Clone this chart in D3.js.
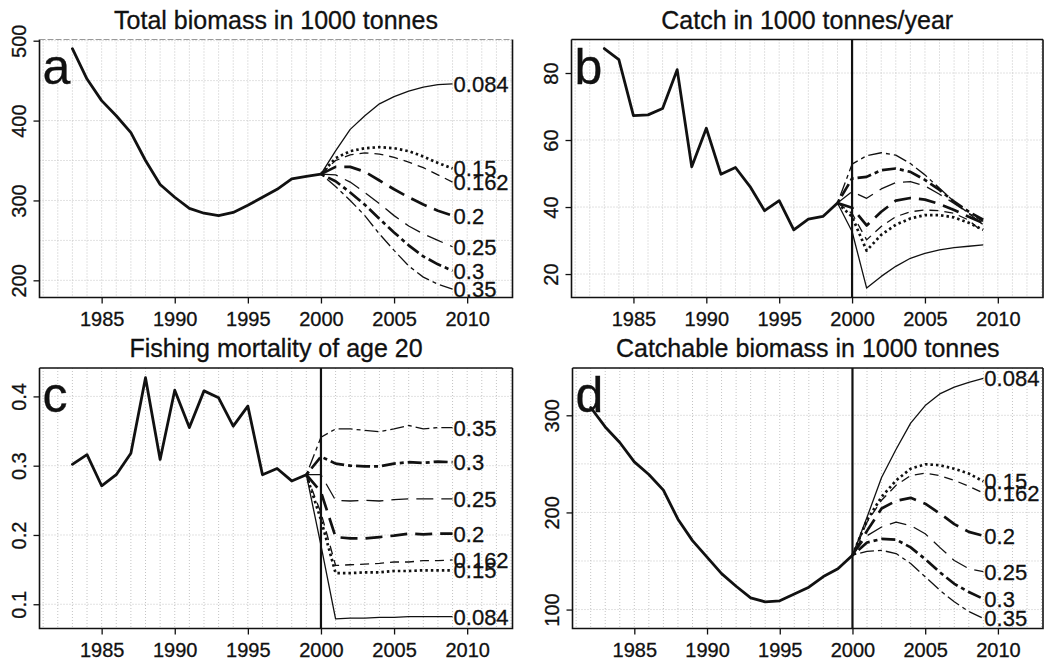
<!DOCTYPE html>
<html>
<head>
<meta charset="utf-8">
<script src="https://cdn.jsdelivr.net/npm/d3@7"></script>
<style>
  body { margin: 0; background: #fff; }
  svg text { font-family: "Liberation Sans", Arial, Helvetica, sans-serif; fill: #111; stroke: #111; stroke-width: 0.3px; }
</style>
</head>
<body>
<div id="chart"></div>
<script>
"use strict"

// scenario F levels, in the order they are drawn
let fLevels = ["0.084", "0.15", "0.162", "0.2", "0.25", "0.3", "0.35"];

let xTicks = [1985, 1990, 1995, 2000, 2005, 2010];

// a: total biomass
let biomassYears = [1983, 1984, 1985, 1986, 1987, 1988, 1989, 1990, 1991, 1992, 1993, 1994, 1995, 1996, 1997, 1998, 1999, 2000];
let biomassHist = [490, 452, 425, 406, 385, 350, 320, 304, 290, 284, 281, 285, 294, 304, 314, 327, 330, 333];
let biomassProjYears = [2000, 2001, 2002, 2003, 2004, 2005, 2006, 2007, 2008, 2009];
let biomassProj = [
  [333, 362, 389, 406, 421, 430, 437, 442, 445, 446],
  [333, 353, 361.7, 365.4, 366.7, 365.4, 361.7, 355, 347, 340],
  [333, 350, 357, 359.5, 358, 354, 348, 341, 332, 323],
  [333, 342, 342, 336, 325, 314, 304, 295, 287, 281],
  [333, 332, 323, 310, 296, 281, 268, 258, 250, 242],
  [333, 324, 310, 294.6, 277, 260, 243.8, 230, 220, 212],
  [333, 317.5, 300, 281, 258, 237.5, 218, 204, 195, 189]
];
let biomassTicks = [200, 300, 400, 500];
let biomassGrid = [200, 250, 300, 350, 400, 450, 500];

// b: catch
let catchYears = [1983, 1984, 1985, 1986, 1987, 1988, 1989, 1990, 1991, 1992, 1993, 1994, 1995, 1996, 1997, 1998, 1999];
let catchHist = [87.3, 84.0, 67.3, 67.5, 69.4, 81.0, 52.0, 63.5, 49.8, 51.8, 46.1, 38.9, 41.9, 33.2, 36.4, 37.2, 41.2];
let catchProjYears = [1999, 2000, 2001, 2002, 2003, 2004, 2005, 2006, 2007, 2008, 2009];
let catchProj = [
  [41.2, 32.7, 15.8, 19.3, 22.3, 24.7, 26.2, 27.2, 27.9, 28.3, 28.7],
  [41.2, 37.1, 27.0, 31.7, 34.7, 36.6, 37.6, 37.6, 36.9, 35.3, 33.2],
  [41.2, 38.1, 30.2, 34.2, 37.1, 38.6, 39.1, 38.9, 38.1, 36.1, 32.4],
  [41.2, 39.8, 34.5, 38.6, 41.9, 42.7, 42.2, 40.9, 39.1, 37.1, 35.2],
  [41.2, 44.6, 42.6, 45.4, 47.3, 47.6, 46.3, 43.8, 41.1, 38.1, 34.7],
  [41.2, 48.5, 49.0, 51.0, 51.5, 50.5, 48.1, 45.1, 41.6, 38.6, 36.2],
  [41.2, 52.8, 55.3, 56.2, 55.5, 53.0, 49.6, 45.6, 41.6, 38.1, 35.7]
];
let catchTicks = [20, 40, 60, 80];
let catchGrid = [20, 40, 60, 80];

// c: fishing mortality of age 20
let mortYears = [1983, 1984, 1985, 1986, 1987, 1988, 1989, 1990, 1991, 1992, 1993, 1994, 1995, 1996, 1997, 1998, 1999];
let mortHist = [0.302, 0.316, 0.271, 0.287, 0.318, 0.427, 0.309, 0.409, 0.355, 0.408, 0.398, 0.357, 0.386, 0.287, 0.296, 0.278, 0.287];
let mortProjYears = [1999, 2000, 2001, 2002, 2003, 2004, 2005, 2006, 2007, 2008, 2009];
let mortProj = [
  [0.287, 0.185, 0.079, 0.080, 0.080, 0.081, 0.081, 0.082, 0.082, 0.082, 0.082],
  [0.287, 0.222, 0.145, 0.145, 0.146, 0.146, 0.148, 0.148, 0.149, 0.149, 0.149],
  [0.287, 0.232, 0.156, 0.157, 0.158, 0.159, 0.161, 0.161, 0.163, 0.163, 0.164],
  [0.287, 0.262, 0.197, 0.195, 0.195, 0.197, 0.199, 0.202, 0.201, 0.202, 0.202],
  [0.287, 0.287, 0.250, 0.249, 0.250, 0.249, 0.251, 0.252, 0.252, 0.252, 0.252],
  [0.287, 0.313, 0.303, 0.300, 0.299, 0.299, 0.303, 0.305, 0.304, 0.306, 0.305],
  [0.287, 0.341, 0.353, 0.353, 0.351, 0.349, 0.353, 0.358, 0.353, 0.355, 0.355]
];
let mortTicks = [0.1, 0.2, 0.3, 0.4];
let mortGrid = [0.1, 0.2, 0.3, 0.4];

// d: catchable biomass
let catchableYears = [1982, 1983, 1984, 1985, 1986, 1987, 1988, 1989, 1990, 1991, 1992, 1993, 1994, 1995, 1996, 1997, 1998, 1999, 2000];
let catchableHist = [308, 288, 272, 252, 239, 223, 193, 171, 154, 137, 124, 112, 108, 109, 116, 123, 134, 142, 156];
let catchableProjYears = [2000, 2001, 2002, 2003, 2004, 2005, 2006, 2007, 2008, 2009];
let catchableProj = [
  [156, 195, 236, 265, 292, 310, 322, 329, 334, 338],
  [156, 192, 216, 233, 245, 249.6, 248.6, 245, 240, 232],
  [156, 190, 212.5, 228, 238, 240.5, 238, 233, 227, 220],
  [156, 181, 204, 212, 215, 209, 199, 188, 180, 176],
  [156, 176, 185, 190, 186.5, 178, 164, 150.5, 142, 139],
  [156, 169, 172.7, 172, 164, 152, 138.5, 126.5, 118, 111],
  [156, 160, 161, 157.7, 147.4, 133.7, 120, 108, 98, 91]
];
let catchableTicks = [100, 200, 300];
let catchableGrid = [100, 150, 200, 250, 300];

// line styles per scenario (R style lty/lwd look)
let lineStyles = [
  { width: 1.3, dash: null },
  { width: 2.7, dash: "2.5,3" },
  { width: 1.3, dash: "9,6" },
  { width: 2.7, dash: "17,8" },
  { width: 1.3, dash: "17,8" },
  { width: 2.7, dash: "4,4,14,4" },
  { width: 1.3, dash: "4,4,14,4" }
];

let width = 1058;
let height = 660;
let xDomain = [1980.75, 2013.1];
let gridYears = d3.range(1981, 2014);

let svg = d3.select("#chart").append("svg")
            .attr("width", width)
            .attr("height", height);

let panels = [
  { letter: "a", title: "Total biomass in 1000 tonnes", left: 39.5, right: 512.5, top: 39.5, bottom: 297.5,
    yDomain: [178.5, 501.5], yTicks: biomassTicks, yGrid: biomassGrid,
    histX: biomassYears, histY: biomassHist, projX: biomassProjYears, proj: biomassProj,
    vline: false, labels: true, fadedTop: true },
  { letter: "b", title: "Catch in 1000 tonnes/year", left: 571.5, right: 1043, top: 39.5, bottom: 297.5,
    yDomain: [13, 90], yTicks: catchTicks, yGrid: catchGrid,
    histX: catchYears, histY: catchHist, projX: catchProjYears, proj: catchProj,
    vline: true, labels: false, fadedTop: false },
  { letter: "c", title: "Fishing mortality of age 20", left: 39.5, right: 512.5, top: 368, bottom: 628.5,
    yDomain: [0.065, 0.441], yTicks: mortTicks, yGrid: mortGrid,
    histX: mortYears, histY: mortHist, projX: mortProjYears, proj: mortProj,
    vline: true, labels: true, fadedTop: false },
  { letter: "d", title: "Catchable biomass in 1000 tonnes", left: 572.5, right: 1043, top: 368, bottom: 628.5,
    yDomain: [80.5, 348.7], yTicks: catchableTicks, yGrid: catchableGrid,
    histX: catchableYears, histY: catchableHist, projX: catchableProjYears, proj: catchableProj,
    vline: true, labels: true, fadedTop: false }
];

panels.forEach(function(p) { drawPanel(p); });

function drawPanel(p)
{
  let x = d3.scaleLinear().domain(xDomain).range([p.left, p.right]);
  let y = d3.scaleLinear().domain(p.yDomain).range([p.bottom, p.top]);
  let g = svg.append("g");

  // dotted grid
  g.append("g").selectAll("line")
   .data(gridYears)
   .join("line")
   .attr("x1", d => x(d)).attr("x2", d => x(d))
   .attr("y1", p.top).attr("y2", p.bottom)
   .attr("stroke", "#c4c4c4")
   .attr("stroke-width", 1)
   .attr("stroke-dasharray", "1,2");

  g.append("g").selectAll("line")
   .data(p.yGrid)
   .join("line")
   .attr("x1", p.left).attr("x2", p.right)
   .attr("y1", d => y(d)).attr("y2", d => y(d))
   .attr("stroke", "#c4c4c4")
   .attr("stroke-width", 1)
   .attr("stroke-dasharray", "1,2");

  // axes
  let xAxis = g.append("g")
               .attr("transform", "translate(0," + p.bottom + ")")
               .call(d3.axisBottom(x).tickValues(xTicks).tickSize(6).tickPadding(8).tickFormat(d3.format("d")));
  xAxis.select(".domain").remove();
  xAxis.selectAll("line").attr("stroke", "#111").attr("stroke-width", 1.3);
  xAxis.selectAll("text").attr("font-size", 20).attr("font-family", null);

  let yAxis = g.append("g")
               .attr("transform", "translate(" + p.left + ",0)")
               .call(d3.axisLeft(y).tickValues(p.yTicks).tickSize(6).tickFormat(d => String(d)));
  yAxis.select(".domain").remove();
  yAxis.selectAll("line").attr("stroke", "#111").attr("stroke-width", 1.3);
  yAxis.selectAll("text")
       .attr("font-size", 20)
       .attr("font-family", null)
       .attr("x", 0).attr("y", -14).attr("dy", 0)
       .attr("text-anchor", "middle")
       .attr("transform", "rotate(-90)");

  let line = d3.line()
               .x(d => x(d[0]))
               .y(d => y(d[1]));

  // scenario projections
  p.proj.forEach(function(vals, i) {
    let pts = p.projX.map((yr, k) => [yr, vals[k]]);
    let st = lineStyles[i];
    g.append("path")
     .attr("d", line(pts))
     .attr("fill", "none")
     .attr("stroke", "#111")
     .attr("stroke-width", st.width)
     .attr("stroke-dasharray", st.dash)
     .attr("stroke-linejoin", "round");
  });

  // historical series
  g.append("path")
   .attr("d", line(p.histX.map((yr, k) => [yr, p.histY[k]])))
   .attr("fill", "none")
   .attr("stroke", "#111")
   .attr("stroke-width", 2.8)
   .attr("stroke-linejoin", "round")
   .attr("stroke-linecap", "round");

  if (p.vline) {
    g.append("line")
     .attr("x1", x(2000)).attr("x2", x(2000))
     .attr("y1", p.top).attr("y2", p.bottom)
     .attr("stroke", "#111")
     .attr("stroke-width", 2.2);
  }

  // box
  g.append("path")
   .attr("d", "M" + p.left + "," + p.top + "V" + p.bottom + "H" + p.right + "V" + p.top)
   .attr("fill", "none")
   .attr("stroke", "#111")
   .attr("stroke-width", 1.6);
  g.append("line")
   .attr("x1", p.left).attr("x2", p.right)
   .attr("y1", p.top).attr("y2", p.top)
   .attr("stroke", p.fadedTop ? "#9a9a9a" : "#111")
   .attr("stroke-width", p.fadedTop ? 1 : 1.6)
   .attr("stroke-dasharray", p.fadedTop ? "6,2" : null);

  // end labels
  if (p.labels) {
    let lastX = p.projX[p.projX.length - 1];
    g.append("g").selectAll("text")
     .data(p.proj)
     .join("text")
     .attr("x", x(lastX) + 1)
     .attr("y", d => y(d[d.length - 1]))
     .attr("dy", "0.36em")
     .attr("font-size", 22)
     .text((d, i) => fLevels[i]);
  }

  // title and panel letter
  g.append("text")
   .attr("x", (p.left + p.right) / 2)
   .attr("y", p.top - 11)
   .attr("text-anchor", "middle")
   .attr("font-size", 25)
   .text(p.title);

  g.append("text")
   .attr("x", p.left + 3)
   .attr("y", p.top + 44)
   .attr("font-size", 50)
   .text(p.letter);
}
</script>
</body>
</html>
